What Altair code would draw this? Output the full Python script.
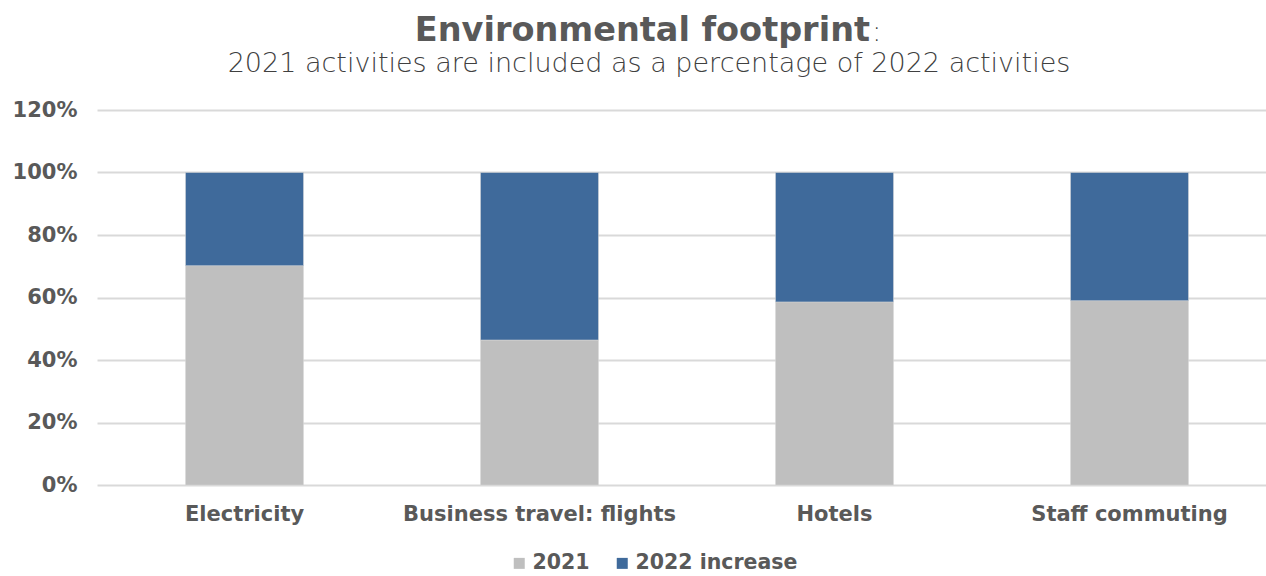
import altair as alt
import pandas as pd

categories = ["Electricity", "Business travel: flights", "Hotels", "Staff commuting"]
share_2021 = [0.702, 0.464, 0.586, 0.590]
increase_2022 = [round(1 - v, 3) for v in share_2021]
series_names = ["2021", "2022 increase"]
colors = ["#BFBFBF", "#3F6A9B"]

rows = []
for c, a, b in zip(categories, share_2021, increase_2022):
    rows.append({"category": c, "series": series_names[0], "value": a, "ord": 0})
    rows.append({"category": c, "series": series_names[1], "value": b, "ord": 1})
df = pd.DataFrame(rows)

FONT = "DejaVu Sans"
LIGHT = "DejaVu Sans"
GREY = "#595959"

bars = alt.Chart(df).mark_bar(stroke="#D9D9D9", strokeWidth=0.5).encode(
    x=alt.X("category:N", sort=categories,
            scale=alt.Scale(range=[0, 1180], paddingInner=0.6, paddingOuter=0.3),
            axis=alt.Axis(title=None, labelAngle=0, labelFont=FONT, labelFontSize=21,
                          labelFontWeight="bold", labelColor=GREY, labelPadding=18,
                          labelLimit=0, domain=False, ticks=False, grid=False)),
    y=alt.Y("value:Q", stack="zero",
            scale=alt.Scale(domain=[0, 1.2], nice=False),
            axis=alt.Axis(title=None, format=".0%", values=[0, 0.2, 0.4, 0.6, 0.8, 1.0, 1.2],
                          labelFont=FONT, labelFontSize=21, labelFontWeight="bold",
                          labelColor=GREY, labelPadding=20, domain=False, ticks=False,
                          gridColor="#D9D9D9", gridWidth=2)),
    color=alt.Color("series:N", sort=series_names,
                    scale=alt.Scale(domain=series_names, range=colors),
                    legend=alt.Legend(title=None, orient="none", direction="horizontal",
                                      legendX=412, legendY=443,
                                      symbolType="square", symbolSize=121,
                                      symbolStrokeWidth=0, labelFont=FONT,
                                      labelFontSize=20.5, labelFontWeight="bold",
                                      labelColor=GREY, labelLimit=0,
                                      columnPadding=22, labelOffset=3)),
    order=alt.Order("ord:Q"),
)

tdf = pd.DataFrame({"t": ["Environmental footprint"]})
title = alt.Chart(tdf).mark_text(font=FONT, fontSize=33.5, fontWeight="bold", color=GREY,
                                 align="right", baseline="alphabetic").encode(
    x=alt.value(773), y=alt.value(-69), text="t:N")
colon = alt.Chart(pd.DataFrame({"t": [":"]})).mark_text(font=LIGHT, fontSize=28, fontWeight=200,
                                 color="#404040", align="left", baseline="alphabetic").encode(
    x=alt.value(775), y=alt.value(-69), text="t:N")
sub = alt.Chart(pd.DataFrame({"t": ["2021 activities are included as a percentage of 2022 activities"]})).mark_text(
    font=LIGHT, fontSize=27, fontWeight=200, color="#404040", align="center", baseline="alphabetic").encode(
    x=alt.value(552), y=alt.value(-38), text="t:N")

chart = alt.layer(bars, title, colon, sub).properties(
    width=1169, height=375,
    autosize=alt.AutoSizeParams(type="none"),
    padding={"left": 97, "top": 110, "right": 0, "bottom": 91},
    background="white",
).configure_view(stroke=None)

chart.save("out.html", embed_options={"renderer": "svg", "actions": False})
